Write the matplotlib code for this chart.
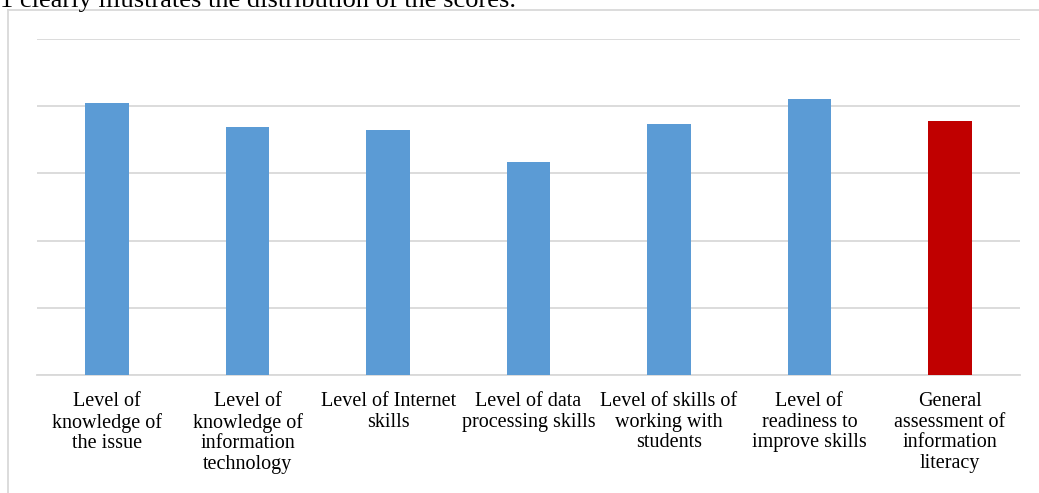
import matplotlib.pyplot as plt
from matplotlib.lines import Line2D

categories = [
    "Level of\nknowledge of\nthe issue",
    "Level of\nknowledge of\ninformation\ntechnology",
    "Level of Internet\nskills",
    "Level of data\nprocessing skills",
    "Level of skills of\nworking with\nstudents",
    "Level of\nreadiness to\nimprove skills",
    "General\nassessment of\ninformation\nliteracy",
]
scores = [4.05, 3.69, 3.65, 3.17, 3.73, 4.11, 3.78]
colors = ["#5b9bd5"] * 6 + ["#c00000"]

W, H = 1039, 493
fig = plt.figure(figsize=(W / 100, H / 100), dpi=100)
plt.rcParams['font.family'] = ['Liberation Serif', 'DejaVu Serif']

# caption text from the page above the chart (cut off at the top)
fig.text(0 / W, 1 - 7 / H, "1 clearly illustrates the distribution of the scores.",
         fontsize=19, va="baseline", ha="left", color="black")

# chart frame (only left and top edges are visible)
fig.add_artist(Line2D([7.5 / W, 7.5 / W], [0, 1 - 10 / H], transform=fig.transFigure,
                      color="#d9d9d9", lw=1.3))
fig.add_artist(Line2D([7.5 / W, 1], [1 - 10 / H, 1 - 10 / H], transform=fig.transFigure,
                      color="#d9d9d9", lw=1.3))

ax = fig.add_axes([37 / W, (H - 375) / H, (1020 - 37) / W, (375 - 39) / H])
x = range(len(categories))
ax.bar(x, scores, width=0.31, color=colors, zorder=3)
ax.set_xlim(-0.5, len(categories) - 0.5)
ax.set_ylim(0, 5)
ax.set_yticks([0, 1, 2, 3, 4, 5])
ax.yaxis.grid(True, color="#d9d9d9", lw=1.3, zorder=0)
ax.set_yticklabels([])
ax.tick_params(axis="y", length=0)
ax.set_xticks(list(x))
ax.set_xticklabels(categories, fontsize=14.5, linespacing=1.1)
ax.tick_params(axis="x", length=0, pad=12.5)
for s in ["top", "right", "left"]:
    ax.spines[s].set_visible(False)
ax.spines["bottom"].set_color("#d9d9d9")
ax.spines["bottom"].set_linewidth(1.3)

fig.savefig("out.png", dpi=100)
